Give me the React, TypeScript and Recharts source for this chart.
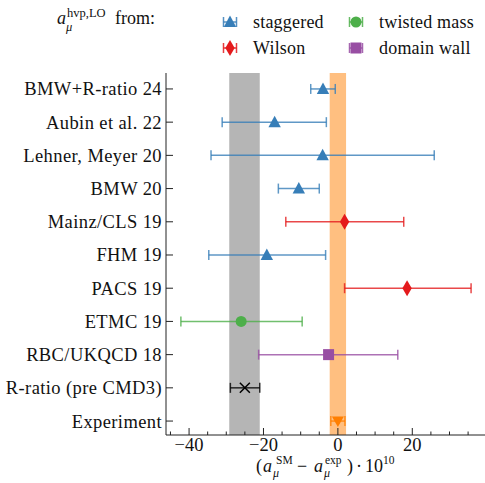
import React from "react";
import {
    ErrorBar,
    Legend,
    ReferenceArea,
    Scatter,
    ScatterChart,
    XAxis,
    YAxis,
} from "recharts";

// rows, top to bottom
const rowLabels = [
    "BMW+R-ratio 24",
    "Aubin et al. 22",
    "Lehner, Meyer 20",
    "BMW 20",
    "Mainz/CLS 19",
    "FHM 19",
    "PACS 19",
    "ETMC 19",
    "RBC/UKQCD 18",
    "R-ratio (pre CMD3)",
    "Experiment",
];
const rowGroups = [
    "staggered",
    "staggered",
    "staggered",
    "staggered",
    "Wilson",
    "staggered",
    "Wilson",
    "twisted mass",
    "domain wall",
    "rratio",
    "experiment",
];
const centerValues = [-4.0, -17.0, -4.1, -10.5, 1.8, -19.1, 18.6, -26.0, -2.5, -25.0, 0.0];
const lowerValues = [-7.3, -31.1, -34.1, -16.0, -14.0, -34.7, 1.8, -42.2, -21.3, -28.9, -1.9];
const upperValues = [-0.7, -3.1, 25.9, -5.0, 17.7, -3.3, 35.8, -9.6, 16.1, -21.0, 1.9];

const rRatioBand = [-29.2, -21.0];
const experimentBand = [-2.2, 2.2];

const xTicks = [-45, -40, -35, -30, -25, -20, -15, -10, -5, 0, 5, 10, 15, 20, 25, 30, 35];
const xTickLabels = [-40, -20, 0, 20];
const rowTicks = rowLabels.map((_, i) => i);

const X_DOMAIN: [number, number] = [-46.2, 40];
const Y_DOMAIN: [number, number] = [-0.48, 10.42];

const FONT = "'Liberation Serif', 'Times New Roman', serif";
const AXIS = "#222";

const series = [
    { key: "staggered", color: "#377eb8", shape: "triangle" },
    { key: "Wilson", color: "#e41a1c", shape: "diamond" },
    { key: "twisted mass", color: "#4daf4a", shape: "circle" },
    { key: "domain wall", color: "#984ea3", shape: "square" },
    { key: "rratio", color: "#000000", shape: "x" },
    { key: "experiment", color: "#ff7f00", shape: "triangleDown" },
];

function pointsFor(group: string) {
    return rowLabels
        .map((name, i) => ({
            name,
            x: centerValues[i],
            y: i,
            err: [centerValues[i] - lowerValues[i], upperValues[i] - centerValues[i]],
            group: rowGroups[i],
        }))
        .filter((d) => d.group === group);
}

function Marker({ shape, cx, cy, color }: any) {
    switch (shape) {
        case "triangle":
            return <polygon points={`${cx},${cy - 6.5} ${cx - 6.2},${cy + 5} ${cx + 6.2},${cy + 5}`} fill={color} />;
        case "triangleDown":
            return <polygon points={`${cx},${cy + 6} ${cx - 6},${cy - 4.5} ${cx + 6},${cy - 4.5}`} fill={color} />;
        case "diamond":
            return <polygon points={`${cx},${cy - 8} ${cx + 4.7},${cy} ${cx},${cy + 8} ${cx - 4.7},${cy}`} fill={color} />;
        case "circle":
            return <circle cx={cx} cy={cy} r={5.5} fill={color} />;
        case "square":
            return <rect x={cx - 5.5} y={cy - 5.5} width={11} height={11} fill={color} />;
        case "x":
            return (
                <g stroke={color} strokeWidth={1.5}>
                    <line x1={cx - 5} y1={cy - 5} x2={cx + 5} y2={cy + 5} />
                    <line x1={cx - 5} y1={cy + 5} x2={cx + 5} y2={cy - 5} />
                </g>
            );
        default:
            return null;
    }
}

function BottomTick({ x, y, payload }: any) {
    const v = payload.value;
    const major = xTickLabels.includes(v);
    return (
        <g>
            <line x1={x} y1={y} x2={x} y2={y - (major ? 7 : 3.5)} stroke={AXIS} />
            {major && (
                <text x={x} y={y + 16} textAnchor="middle" fontSize={18.5} fontFamily={FONT} fill="#111">
                    {v < 0 ? `\u2212${Math.abs(v)}` : v}
                </text>
            )}
        </g>
    );
}

function TopTick({ x, y, payload }: any) {
    const major = xTickLabels.includes(payload.value);
    return <line x1={x} y1={y} x2={x} y2={y + (major ? 7 : 3.5)} stroke={AXIS} />;
}

function LeftTick({ x, y, payload }: any) {
    return (
        <g>
            <line x1={x} y1={y} x2={x + 7} y2={y} stroke={AXIS} />
            <text
                x={x - 4}
                y={y + 6.5}
                textAnchor="end"
                fontSize={18.5}
                letterSpacing={0.4}
                fontFamily={FONT}
                fill="#111"
            >
                {rowLabels[payload.value]}
            </text>
        </g>
    );
}

function RightTick({ x, y }: any) {
    return <line x1={x} y1={y} x2={x - 7} y2={y} stroke={AXIS} />;
}

function XLabel() {
    const t = { fontFamily: FONT, fill: "#111" } as const;
    const b = 472;
    return (
        <g>
            <text x={256} y={b} fontSize={18} {...t}>(</text>
            <text x={263} y={b} fontSize={18} fontStyle="italic" {...t}>a</text>
            <text x={273} y={b + 5} fontSize={12} fontStyle="italic" {...t}>μ</text>
            <text x={276} y={b - 8} fontSize={11.5} {...t}>SM</text>
            <text x={297} y={b} fontSize={18} {...t}>{"\u2212"}</text>
            <text x={314} y={b} fontSize={18} fontStyle="italic" {...t}>a</text>
            <text x={324} y={b + 5} fontSize={12} fontStyle="italic" {...t}>μ</text>
            <text x={325} y={b - 8} fontSize={11.5} {...t}>exp</text>
            <text x={347} y={b} fontSize={18} {...t}>)</text>
            <text x={356} y={b} fontSize={18} {...t}>·</text>
            <text x={365} y={b} fontSize={18} {...t}>10</text>
            <text x={383} y={b - 8} fontSize={11.5} {...t}>10</text>
        </g>
    );
}

const legendItems = [
    { key: "staggered", label: "staggered", cx: 230, cy: 22 },
    { key: "twisted mass", label: "twisted mass", cx: 356, cy: 22 },
    { key: "Wilson", label: "Wilson", cx: 230, cy: 48 },
    { key: "domain wall", label: "domain wall", cx: 356, cy: 48 },
];

function LegendBox() {
    const t = { fontFamily: FONT, fill: "#111" } as const;
    return (
        <svg width={485} height={65} style={{ display: "block" }}>
            <text x={57} y={24} fontSize={18} fontStyle="italic" {...t}>a</text>
            <text x={66} y={31} fontSize={12.5} fontStyle="italic" {...t}>μ</text>
            <text x={67} y={17} fontSize={12.5} {...t}>hvp,LO</text>
            <text x={115} y={24} fontSize={18} {...t}>from:</text>
            {legendItems.map((it) => {
                const s = series.find((q) => q.key === it.key)!;
                return (
                    <g key={it.key}>
                        <g stroke={s.color} strokeWidth={1.5} strokeOpacity={0.85}>
                            <line x1={it.cx - 6.5} y1={it.cy} x2={it.cx + 6.5} y2={it.cy} />
                            <line x1={it.cx - 6.5} y1={it.cy - 5} x2={it.cx - 6.5} y2={it.cy + 5} />
                            <line x1={it.cx + 6.5} y1={it.cy - 5} x2={it.cx + 6.5} y2={it.cy + 5} />
                        </g>
                        <Marker shape={s.shape} cx={it.cx} cy={it.cy} color={s.color} />
                        <text x={it.cx + 23} y={it.cy + 6} fontSize={18} letterSpacing={0.2} {...t}>
                            {it.label}
                        </text>
                    </g>
                );
            })}
        </svg>
    );
}

export default function App() {
    return (
        <div
            style={{
                position: "fixed",
                left: 0,
                top: 0,
                width: 485,
                height: 483,
                overflow: "hidden",
                background: "#fff",
            }}
        >
            <ScatterChart
                width={500}
                height={483}
                margin={{ top: 73, right: 13.3, bottom: 0, left: 0 }}
            >
                <XAxis
                    type="number"
                    dataKey="x"
                    domain={X_DOMAIN}
                    allowDataOverflow
                    ticks={xTicks}
                    interval={0}
                    tickSize={0}
                    tickMargin={0}
                    tickLine={false}
                    tick={<BottomTick />}
                    height={48}
                    axisLine={{ stroke: AXIS }}
                    label={<XLabel />}
                />
                <XAxis
                    xAxisId="top"
                    orientation="top"
                    type="number"
                    domain={X_DOMAIN}
                    allowDataOverflow
                    ticks={xTicks}
                    interval={0}
                    tickSize={0}
                    tickMargin={0}
                    tickLine={false}
                    tick={<TopTick />}
                    height={0}
                    axisLine={{ stroke: AXIS }}
                />
                <YAxis
                    type="number"
                    dataKey="y"
                    domain={Y_DOMAIN}
                    reversed
                    allowDataOverflow
                    ticks={rowTicks}
                    interval={0}
                    tickSize={0}
                    tickMargin={0}
                    tickLine={false}
                    tick={<LeftTick />}
                    width={166}
                    axisLine={{ stroke: AXIS }}
                />
                <YAxis
                    yAxisId="right"
                    orientation="right"
                    type="number"
                    domain={Y_DOMAIN}
                    reversed
                    allowDataOverflow
                    ticks={rowTicks}
                    interval={0}
                    tickSize={0}
                    tickMargin={0}
                    tickLine={false}
                    tick={<RightTick />}
                    width={0}
                    axisLine={{ stroke: AXIS }}
                />
                <ReferenceArea x1={rRatioBand[0]} x2={rRatioBand[1]} fill="#b5b5b5" fillOpacity={1} stroke="none" />
                <ReferenceArea x1={experimentBand[0]} x2={experimentBand[1]} fill="#ffbf80" fillOpacity={1} stroke="none" />
                {series.map((s) => (
                    <Scatter
                        key={s.key}
                        name={s.key}
                        data={pointsFor(s.key)}
                        isAnimationActive={false}
                        shape={(p: any) => <Marker shape={s.shape} cx={p.cx} cy={p.cy} color={s.color} />}
                    >
                        <ErrorBar
                            dataKey="err"
                            direction="x"
                            width={5}
                            stroke={s.color}
                            strokeWidth={1.5}
                            strokeOpacity={0.8}
                            isAnimationActive={false}
                        />
                    </Scatter>
                ))}
                <Legend
                    layout="horizontal"
                    verticalAlign="middle"
                    align="center"
                    content={<LegendBox />}
                    wrapperStyle={{ top: 0, left: 0, width: 485, height: 65 }}
                />
            </ScatterChart>
        </div>
    );
}
